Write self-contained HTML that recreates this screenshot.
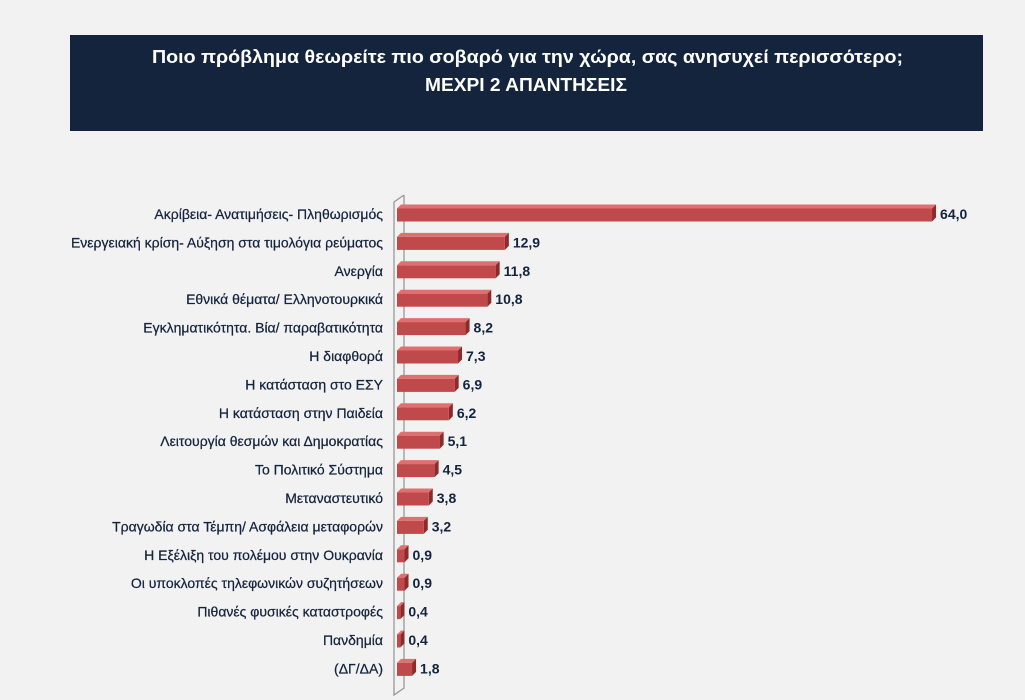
<!DOCTYPE html>
<html><head><meta charset="utf-8"><style>
html,body{margin:0;padding:0;background:#f2f2f2;}
svg{display:block;font-family:"Liberation Sans",sans-serif;}
</style></head><body>
<svg width="1025" height="700" viewBox="0 0 1025 700">
<rect width="1025" height="700" fill="#f2f2f2"/>
<rect x="70" y="35" width="913" height="96" fill="#14243d"/>
<text x="152" y="63" fill="#fff" font-size="18" font-weight="bold" textLength="751" lengthAdjust="spacingAndGlyphs">Ποιο πρόβλημα θεωρείτε πιο σοβαρό για την χώρα, σας ανησυχεί περισσότερο;</text>
<text x="425" y="91" fill="#fff" font-size="18" font-weight="bold" textLength="202" lengthAdjust="spacingAndGlyphs">ΜΕΧΡΙ 2 ΑΠΑΝΤΗΣΕΙΣ</text>
<polyline points="404,195 394,202 394,695 404,688 404,195" fill="none" stroke="#999" stroke-width="1.3"/>
<g id="bars"></g>
</svg>
<script>
var d=[["Ακρίβεια- Ανατιμήσεις- Πληθωρισμός",64.0],["Ενεργειακή κρίση- Αύξηση στα τιμολόγια ρεύματος",12.9],["Ανεργία",11.8],["Εθνικά θέματα/ Ελληνοτουρκικά",10.8],["Εγκληματικότητα. Βία/ παραβατικότητα",8.2],["Η διαφθορά",7.3],["Η κατάσταση στο ΕΣΥ",6.9],["Η κατάσταση στην Παιδεία",6.2],["Λειτουργία θεσμών και Δημοκρατίας",5.1],["Το Πολιτικό Σύστημα",4.5],["Μεταναστευτικό",3.8],["Τραγωδία στα Τέμπη/ Ασφάλεια μεταφορών",3.2],["Η Εξέλιξη του πολέμου στην Ουκρανία",0.9],["Οι υποκλοπές τηλεφωνικών συζητήσεων",0.9],["Πιθανές φυσικές καταστροφές",0.4],["Πανδημία",0.4],["(ΔΓ/ΔΑ)",1.8]];
var g=document.getElementById("bars"),s="";
d.forEach(function(r,i){
 var c=214+i*28.4, x0=397, w=r[1]*8.36, h=13, y=c-h/2+1, dp=4;
 s+='<text x="383" y="'+(c+5)+'" font-size="14" fill="#14243d" stroke="#14243d" stroke-width="0.25" text-anchor="end">'+r[0]+'</text>';
 s+='<polygon points="'+x0+','+y+' '+(x0+dp)+','+(y-dp)+' '+(x0+w+dp)+','+(y-dp)+' '+(x0+w)+','+y+'" fill="#e07070"/>';
 s+='<polygon points="'+(x0+w)+','+y+' '+(x0+w+dp)+','+(y-dp)+' '+(x0+w+dp)+','+(y+h-dp)+' '+(x0+w)+','+(y+h)+'" fill="#8e2a2a"/>';
 s+='<rect x="'+x0+'" y="'+y+'" width="'+w+'" height="'+h+'" fill="#c0494b"/>';
 s+='<text x="'+(x0+w+dp+4)+'" y="'+(c+5)+'" font-size="14" font-weight="bold" fill="#14243d">'+r[1].toFixed(1).replace(".",",")+'</text>';
});
g.innerHTML=s;
</script>
</body></html>
